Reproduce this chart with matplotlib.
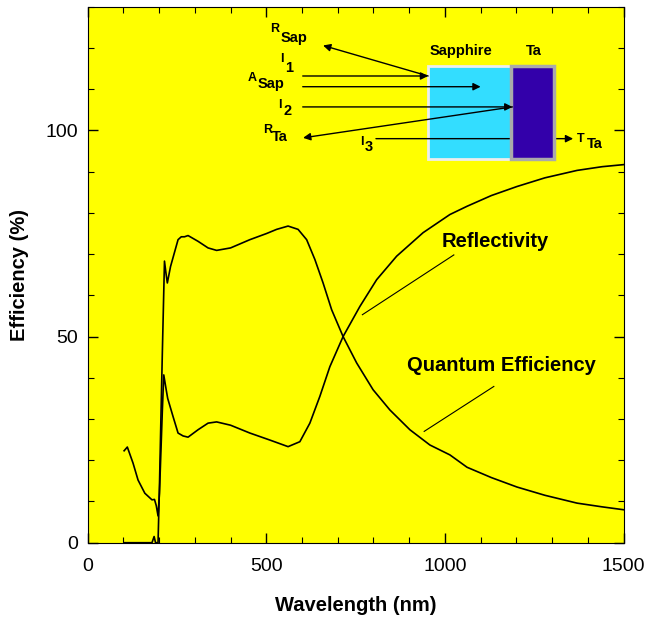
import matplotlib
matplotlib.use("Agg")
import matplotlib.pyplot as plt
from matplotlib.patches import Rectangle
from matplotlib.ticker import MultipleLocator

plt.rcParams['font.family'] = ['Liberation Sans', 'DejaVu Sans']

# Datos
lam_r = [102, 111, 127, 141, 160, 180, 187, 192, 197, 201, 205, 209, 213,
         220, 224, 239, 253, 267, 281, 309, 337, 361, 400, 454, 510, 561,
         594, 622, 650, 678, 715, 762, 809, 865, 939, 1014, 1062, 1130,
         1202, 1280, 1370, 1440, 1500]
refl = [22.3, 23.2, 19.3, 15.2, 12.0, 10.4, 10.5, 9.0, 6.5, 12.0, 22.0, 32.0, 40.7,
        37.0, 35.0, 30.6, 26.6, 25.9, 25.6, 27.4, 29.0, 29.3, 28.5, 26.6, 24.9, 23.3,
        24.5, 29.0, 35.5, 42.7, 50.0, 57.3, 63.8, 69.5, 75.2, 79.6, 81.6, 84.2,
        86.4, 88.5, 90.3, 91.2, 91.7]

lam_q = [102, 150, 180, 186, 190, 197, 201, 205, 209, 215, 219, 223, 232,
         253, 262, 271, 281, 309, 337, 361, 400, 454, 501, 529, 561, 589,
         613, 636, 659, 683, 715, 753, 799, 846, 902, 958, 1014, 1062, 1130,
         1202, 1280, 1370, 1440, 1500]
qe = [0.0, 0.0, 0.0, 1.5, 0.0, 0.0, 14.0, 30.0, 46.0, 68.3, 65.5, 63.0, 67.0,
      73.5, 74.2, 74.2, 74.5, 73.1, 71.5, 70.9, 71.5, 73.5, 75.0, 76.0, 76.8, 76.0,
      73.5, 68.7, 63.0, 56.5, 50.0, 43.6, 37.1, 32.2, 27.4, 23.7, 21.3, 18.3, 15.8,
      13.5, 11.5, 9.6, 8.7, 8.0]

fig = plt.figure(figsize=(6.48, 6.17), dpi=100)
ax = fig.add_axes([0.1353, 0.1204, 0.8269, 0.8687])
ax.set_facecolor('#FFFF00')

ax.plot(lam_r, refl, color='black', lw=1.2, zorder=2)
ax.plot(lam_q, qe, color='black', lw=1.2, zorder=2)

ax.set_xlim(0, 1500)
ax.set_ylim(0, 130)
ax.xaxis.set_major_locator(MultipleLocator(500))
ax.xaxis.set_minor_locator(MultipleLocator(100))
ax.yaxis.set_major_locator(MultipleLocator(50))
ax.yaxis.set_minor_locator(MultipleLocator(10))
ax.tick_params(which='both', direction='in', top=True, right=True, labelsize=14)
ax.tick_params(which='major', length=7, width=1)
ax.tick_params(which='minor', length=4.3, width=0.8)
ax.tick_params(axis='y', pad=7)
ax.tick_params(axis='x', pad=11)
ax.set_xlabel('Wavelength (nm)', fontsize=14.5, fontweight='bold', labelpad=15)
ax.set_ylabel('Efficiency (%)', fontsize=14.5, fontweight='bold', labelpad=12)

# Etiquetas de las curvas
ax.text(1140, 73.1, 'Reflectivity', fontsize=14.5, fontweight='bold', ha='center', va='center')
ax.plot([1025, 769], [69.8, 55.3], color='black', lw=0.8)
ax.text(1158, 42.9, 'Quantum Efficiency', fontsize=14.5, fontweight='bold', ha='center', va='center')
ax.plot([1137, 942], [37.9, 27.0], color='black', lw=0.8)

# Esquema de la muestra
ax.add_patch(Rectangle((953, 93.1), 231, 22.5, facecolor='#33DDFF',
                       edgecolor='#EEEEEE', lw=2, zorder=3))
ap = dict(arrowstyle='-|>', mutation_scale=11, lw=1, color='black', shrinkA=0, shrinkB=0)
ax.annotate('', xy=(1359, 98.0), xytext=(807, 98.0), arrowprops=ap, zorder=3.5)
ax.add_patch(Rectangle((1184, 93.1), 121, 22.5, facecolor='#3300AA',
                       edgecolor='#AAAAAA', lw=2.5, zorder=3.7))
ax.annotate('', xy=(953, 113.2), xytext=(602, 113.2), arrowprops=ap, zorder=4)
ax.annotate('', xy=(659, 120.6), xytext=(953, 113.2), arrowprops=ap, zorder=4)
ax.annotate('', xy=(1100, 110.6), xytext=(602, 110.6), arrowprops=ap, zorder=4)
ax.annotate('', xy=(1189, 105.7), xytext=(602, 105.7), arrowprops=ap, zorder=4)
ax.annotate('', xy=(603, 98.2), xytext=(1189, 105.7), arrowprops=ap, zorder=4)

ax.text(1045, 119.3, 'Sapphire', fontsize=10.5, fontweight='bold', ha='center', va='center')
ax.text(1249, 119.3, 'Ta', fontsize=10.5, fontweight='bold', ha='center', va='center')

small = dict(fontsize=9, fontweight='bold', ha='left', va='center')
big = dict(fontsize=10.5, fontweight='bold', ha='left', va='center')
ax.text(512, 124.5, 'R', **small)
ax.text(540, 122.5, 'Sap', **big)
ax.text(538, 117.2, 'I', **small)
ax.text(552, 115.2, '1', **big)
ax.text(449, 112.8, 'A', **small)
ax.text(477, 111.2, 'Sap', **big)
ax.text(533, 106.1, 'I', **small)
ax.text(547, 104.7, '2', **big)
ax.text(490, 100.2, 'R', **small)
ax.text(515, 98.5, 'Ta', **big)
ax.text(764, 97.2, 'I', **small)
ax.text(776, 95.9, '3', **big)
ax.text(1370, 97.8, 'T', **small)
ax.text(1397, 96.6, 'Ta', **big)

fig.savefig('out.png', dpi=100)
